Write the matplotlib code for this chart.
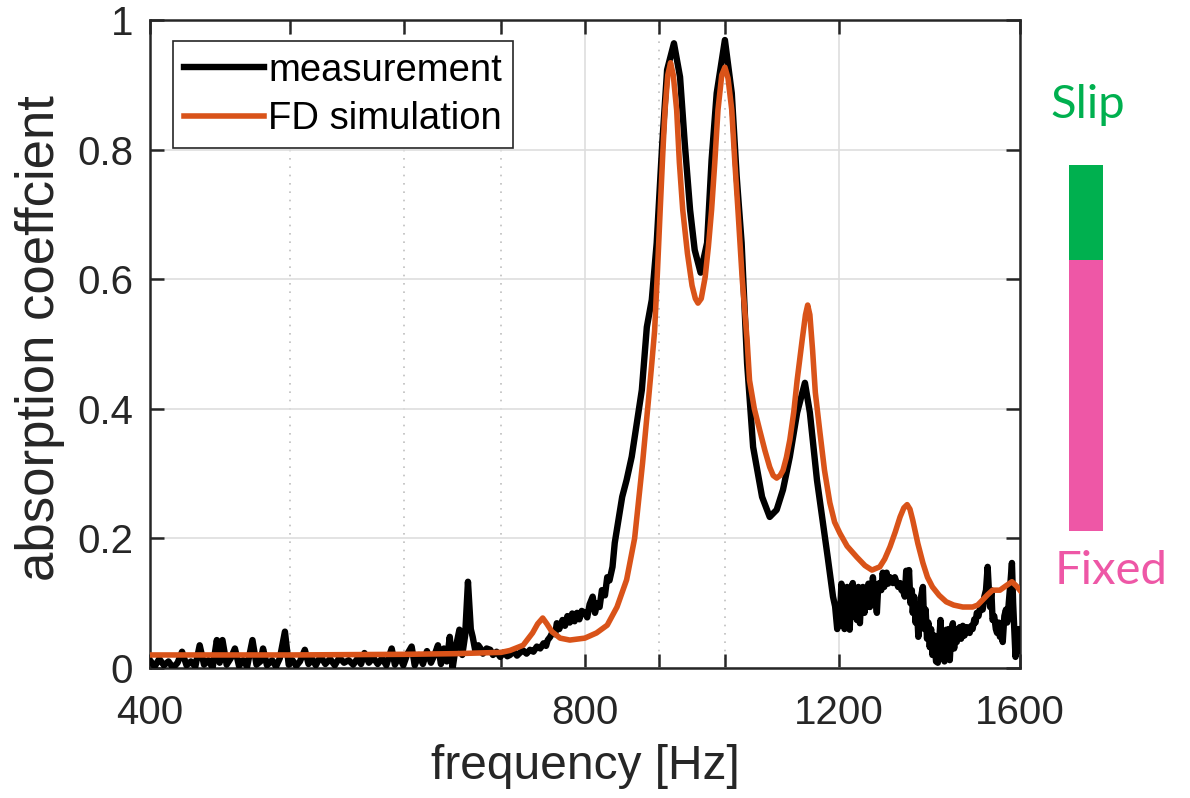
import matplotlib
matplotlib.use("Agg")
import matplotlib.pyplot as plt
from matplotlib.ticker import FixedLocator, NullFormatter

plt.rcParams['font.family'] = ['Liberation Sans', 'DejaVu Sans']

meas_hz = [400, 403, 406, 409, 412, 415, 418, 421, 424, 427, 430, 433, 436, 439, 442, 445, 447, 449,
           452, 455, 458, 461, 464, 467, 471, 474, 477, 479, 482, 486, 489, 492, 496, 499, 502, 505,
           508, 512, 515, 518, 521, 525, 529, 533, 537, 541, 545, 549, 553, 557, 560, 563, 567, 571,
           575, 579, 583, 586, 588, 591, 595, 599, 603, 607, 610, 614, 618, 622, 626, 630, 633, 636,
           639, 642, 645, 648, 651, 655, 658, 661, 664, 667, 669, 672, 675, 677, 680, 684, 688, 691,
           695, 699, 703, 707, 710, 714, 718, 721, 725, 729, 733, 737, 741, 745, 749, 752, 754, 757,
           760, 763, 765, 768, 772, 775, 778, 781, 784, 787, 790, 793, 796, 800, 803, 806, 810, 813,
           816, 819, 822, 826, 829, 832, 836, 839, 849, 855, 862, 869, 876, 883, 890, 897, 905, 912,
           922, 931, 938, 946, 953, 962, 972, 979, 987, 1000, 1011, 1019, 1027, 1036, 1046, 1061,
           1074, 1086, 1097, 1109, 1122, 1136, 1145, 1158, 1169, 1178, 1188, 1192, 1196, 1201, 1204,
           1207, 1210, 1213, 1215, 1218, 1220, 1223, 1226, 1229, 1232, 1234, 1237, 1240, 1243, 1246,
           1249, 1252, 1254, 1257, 1260, 1263, 1266, 1269, 1272, 1274, 1277, 1280, 1283, 1286, 1289,
           1292, 1294, 1297, 1301, 1304, 1307, 1311, 1315, 1318, 1322, 1325, 1328, 1332, 1335, 1338,
           1341, 1344, 1347, 1349, 1352, 1355, 1358, 1361, 1364, 1367, 1371, 1374, 1377, 1380, 1383,
           1386, 1389, 1392, 1396, 1400, 1404, 1407, 1410, 1413, 1416, 1419, 1423, 1426, 1429, 1431,
           1434, 1438, 1441, 1444, 1447, 1450, 1454, 1457, 1461, 1465, 1470, 1474, 1477, 1481, 1484,
           1488, 1491, 1494, 1498, 1501, 1505, 1508, 1512, 1516, 1520, 1523, 1526, 1529, 1532, 1536,
           1540, 1543, 1547, 1550, 1553, 1557, 1561, 1565, 1568, 1572, 1576, 1580, 1583, 1586, 1589,
           1592, 1595, 1598, 1600]
meas_alpha = [0.012, 0.002, 0.014, 0.004, 0.010, 0.000, 0.008, 0.025, 0.004, 0.010, 0.002, 0.035,
              0.005, 0.012, 0.000, 0.043, 0.008, 0.043, 0.005, 0.015, 0.030, 0.003, 0.012, 0.002,
              0.043, 0.005, 0.010, 0.030, 0.004, 0.012, 0.002, 0.015, 0.056, 0.005, 0.012, 0.003,
              0.010, 0.028, 0.006, 0.014, 0.004, 0.018, 0.006, 0.014, 0.004, 0.016, 0.008, 0.012,
              0.005, 0.015, 0.006, 0.023, 0.008, 0.016, 0.006, 0.015, 0.004, 0.020, 0.030, 0.005,
              0.018, 0.004, 0.022, 0.033, 0.004, 0.020, 0.006, 0.026, 0.008, 0.022, 0.035, 0.006,
              0.030, 0.010, 0.048, 0.000, 0.030, 0.059, 0.020, 0.050, 0.133, 0.060, 0.048, 0.025,
              0.035, 0.031, 0.022, 0.030, 0.028, 0.020, 0.025, 0.017, 0.024, 0.018, 0.020, 0.026,
              0.019, 0.023, 0.027, 0.022, 0.028, 0.025, 0.033, 0.030, 0.038, 0.034, 0.043, 0.048,
              0.056, 0.052, 0.069, 0.060, 0.074, 0.065, 0.080, 0.070, 0.084, 0.072, 0.085, 0.075,
              0.088, 0.085, 0.078, 0.098, 0.110, 0.085, 0.100, 0.094, 0.120, 0.112, 0.140, 0.135,
              0.156, 0.193, 0.264, 0.290, 0.326, 0.378, 0.429, 0.526, 0.568, 0.656, 0.810, 0.923,
              0.964, 0.912, 0.810, 0.707, 0.645, 0.610, 0.656, 0.784, 0.887, 0.969, 0.887, 0.758,
              0.656, 0.470, 0.341, 0.264, 0.233, 0.244, 0.275, 0.326, 0.394, 0.440, 0.394, 0.290,
              0.224, 0.171, 0.110, 0.095, 0.060, 0.074, 0.130, 0.120, 0.060, 0.110, 0.125, 0.070,
              0.059, 0.120, 0.131, 0.080, 0.115, 0.074, 0.125, 0.069, 0.110, 0.125, 0.085, 0.120,
              0.094, 0.130, 0.094, 0.105, 0.140, 0.110, 0.100, 0.085, 0.130, 0.131, 0.120, 0.147,
              0.125, 0.140, 0.147, 0.130, 0.140, 0.135, 0.131, 0.140, 0.131, 0.125, 0.131, 0.120,
              0.120, 0.110, 0.150, 0.125, 0.151, 0.100, 0.120, 0.085, 0.110, 0.070, 0.095, 0.048,
              0.074, 0.110, 0.125, 0.060, 0.090, 0.045, 0.070, 0.032, 0.060, 0.020, 0.050, 0.010,
              0.008, 0.040, 0.074, 0.020, 0.050, 0.010, 0.059, 0.030, 0.060, 0.012, 0.050, 0.069,
              0.030, 0.060, 0.040, 0.059, 0.063, 0.045, 0.065, 0.050, 0.063, 0.055, 0.054, 0.065,
              0.060, 0.075, 0.070, 0.085, 0.080, 0.090, 0.095, 0.090, 0.110, 0.120, 0.156, 0.120,
              0.094, 0.120, 0.074, 0.080, 0.060, 0.054, 0.070, 0.048, 0.060, 0.040, 0.080, 0.090,
              0.070, 0.100, 0.130, 0.162, 0.100, 0.060, 0.017, 0.040, 0.025, 0.060, 0.050]

# finite-difference simulation
sim_hz = [400, 500, 600, 650, 700, 710, 725, 736, 742, 748, 753, 759, 769, 781, 800, 815, 829,
          842, 855, 866, 877, 885, 890, 894, 898, 902, 906, 909, 913, 917, 921, 926, 930, 935,
          942, 949, 954, 958, 963, 969, 974, 979, 984, 989, 995, 1000, 1005, 1011, 1016, 1021,
          1028, 1036, 1040, 1048, 1057, 1066, 1074, 1080, 1086, 1092, 1097, 1103, 1109, 1116,
          1122, 1131, 1137, 1141, 1145, 1150, 1155, 1163, 1172, 1182, 1191, 1201, 1215, 1234,
          1250, 1264, 1280, 1290, 1301, 1312, 1322, 1330, 1337, 1343, 1349, 1360, 1371, 1381,
          1392, 1407, 1423, 1440, 1461, 1484, 1496, 1508, 1520, 1532, 1550, 1568, 1580, 1592, 1600]
sim_alpha = [0.020, 0.020, 0.021, 0.022, 0.024, 0.027, 0.035, 0.054, 0.068, 0.077, 0.068, 0.056,
             0.046, 0.043, 0.046, 0.054, 0.066, 0.094, 0.136, 0.200, 0.316, 0.410, 0.470, 0.520,
             0.610, 0.707, 0.800, 0.861, 0.915, 0.934, 0.915, 0.861, 0.780, 0.707, 0.640, 0.590,
             0.570, 0.563, 0.570, 0.603, 0.650, 0.707, 0.780, 0.861, 0.915, 0.927, 0.910, 0.861,
             0.780, 0.707, 0.600, 0.506, 0.444, 0.400, 0.367, 0.335, 0.310, 0.297, 0.293, 0.297,
             0.305, 0.325, 0.352, 0.395, 0.444, 0.506, 0.545, 0.560, 0.545, 0.490, 0.425, 0.367,
             0.305, 0.255, 0.225, 0.208, 0.188, 0.171, 0.158, 0.151, 0.156, 0.168, 0.187, 0.210,
             0.233, 0.247, 0.252, 0.245, 0.228, 0.192, 0.162, 0.140, 0.125, 0.112, 0.102, 0.097,
             0.094, 0.094, 0.097, 0.105, 0.113, 0.120, 0.120, 0.128, 0.133, 0.126, 0.120]

xticks = [400, 800, 1200, 1600]
xtick_labels = ["400", "800", "1200", "1600"]
xminor = [500, 600, 700, 900, 1000]
yticks = [0, 0.2, 0.4, 0.6, 0.8, 1]
ytick_labels = ["0", "0.2", "0.4", "0.6", "0.8", "1"]

# boundary condition bar on the right
bar_parts = [0.74, 0.26]
bar_colors = ["#EE57A6", "#00B04F"]

axcol = "#262626"

fig = plt.figure(figsize=(11.9, 7.98), dpi=100)
ax = fig.add_axes([0.126, 0.163, 0.731, 0.812])

ax.plot(meas_hz, meas_alpha, color="black", lw=4.6, label="measurement", zorder=3,
        solid_joinstyle="round")
ax.plot(sim_hz, sim_alpha, color="#D95319", lw=4.0, label="FD simulation", zorder=4,
        solid_joinstyle="round")

ax.set_xscale("log")
ax.set_xlim(400, 1600)
ax.set_ylim(0, 1)
ax.xaxis.set_major_locator(FixedLocator(xticks))
ax.xaxis.set_minor_locator(FixedLocator(xminor))
ax.xaxis.set_minor_formatter(NullFormatter())
ax.set_xticklabels(xtick_labels)
ax.set_yticks(yticks)
ax.set_yticklabels(ytick_labels)

ax.grid(which="major", color="#DEDEDE", lw=1.2, ls="-", zorder=0)
ax.grid(which="minor", axis="x", color="#BFBFBF", lw=1.2, ls=(0, (1, 4)), zorder=0)
ax.set_axisbelow(True)

ax.tick_params(which="both", direction="in", top=True, right=True, length=10,
               width=1.8, color=axcol, labelcolor=axcol, labelsize=29)
ax.tick_params(axis="x", which="major", pad=19)
ax.tick_params(axis="y", which="major", pad=12)
for s in ax.spines.values():
    s.set_color(axcol)
    s.set_linewidth(1.8)

ax.set_xlabel("frequency [Hz]", fontsize=34.5, color=axcol)
ax.xaxis.set_label_coords(0.5, -0.118)
ax.set_ylabel("absorption coeffcient", fontsize=38, color=axcol)
ax.yaxis.set_label_coords(-0.098, 0.509)

leg = ax.legend(loc="upper left", bbox_to_anchor=(0.026, 0.967), fontsize=27.5,
                handlelength=2.1, handletextpad=0.1, borderpad=0.3, labelspacing=0.32,
                borderaxespad=0, fancybox=False, framealpha=1)
leg.get_frame().set_edgecolor(axcol)
leg.get_frame().set_linewidth(1.2)

# right-hand slip / fixed indicator
bax = fig.add_axes([0.8983, 0.3346, 0.0286, 0.4586])
bottom = 0
for part, col in zip(bar_parts, bar_colors):
    bax.bar([0], [part], bottom=bottom, width=1, color=col)
    bottom += part
bax.set_xlim(-0.5, 0.5)
bax.set_ylim(0, 1)
bax.axis("off")

fig.text(0.914, 0.868, "Slip", color="#00B04F", fontsize=34, family=["Lato", "DejaVu Sans"],
         ha="center", va="center")
fig.text(0.934, 0.284, "Fixed", color="#EE57A6", fontsize=34, family=["Lato", "DejaVu Sans"],
         ha="center", va="center")

fig.savefig("out.png", dpi=100)
